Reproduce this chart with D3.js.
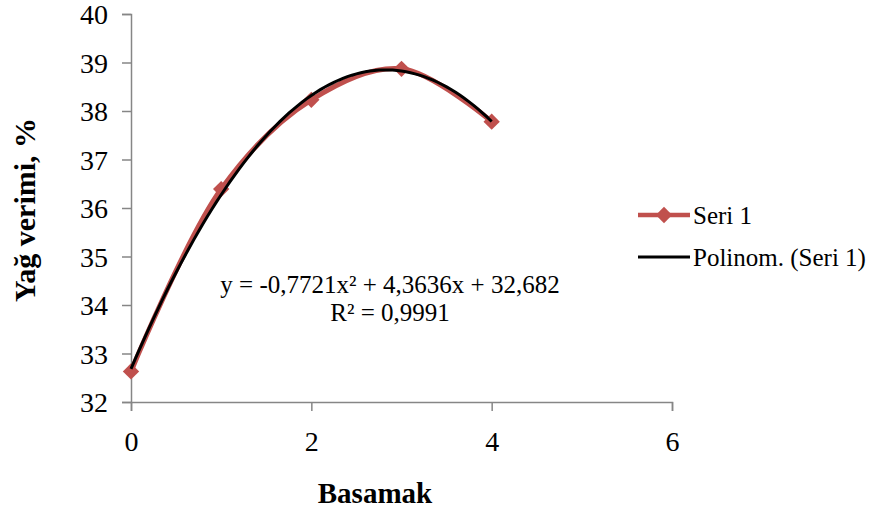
<!DOCTYPE html>
<html>
<head>
<meta charset="utf-8">
<script src="https://cdn.jsdelivr.net/npm/d3@7"></script>
<style>
  body { margin: 0; background: #fff; }
  svg text { font-family: "Liberation Serif", "Times New Roman", serif; fill: #000; }
</style>
</head>
<body>
<svg id="chart" width="872" height="514"></svg>
<script>
// values
var steps = [0, 1, 2, 3, 4];
var yields = [32.63, 36.39, 38.23, 38.87, 37.78];
var xTicks = [0, 2, 4, 6];
var yTicks = [32, 33, 34, 35, 36, 37, 38, 39, 40];
// trendline coefficients as printed on the chart (a, b, c for a*x^2 + b*x + c)
var trendCoef = [-0.7721, 4.3636, 32.682];
var trendLabel = ["y = -0,7721x\u00b2 + 4,3636x + 32,682", "R\u00b2 = 0,9991"];
var legendNames = ["Seri 1", "Polinom. (Seri 1)"];

var svg = d3.select("#chart");
var red = "#C0504D", axisGrey = "#868686";

var x = d3.scaleLinear().domain([0, 6]).range([131, 672]);
var y = d3.scaleLinear().domain([32, 40]).range([402, 14]);

// axes
var yAxis = svg.append("g")
    .attr("transform", "translate(131,0)")
    .call(d3.axisLeft(y).tickValues(yTicks).tickSize(9).tickPadding(14).tickFormat(d3.format("d")));
var xAxis = svg.append("g")
    .attr("transform", "translate(0,402)")
    .call(d3.axisBottom(x).tickValues(xTicks).tickSize(9).tickPadding(20).tickFormat(d3.format("d")));

[xAxis, yAxis].forEach(function (g) {
    g.select(".domain").attr("stroke", axisGrey).attr("stroke-width", 1.5);
    g.selectAll(".tick line").attr("stroke", axisGrey).attr("stroke-width", 1.5);
    g.selectAll(".tick text").style("font-size", "28px").attr("fill", "#000");
});
yAxis.selectAll(".tick text").attr("dy", "0.34em");

// axis titles
svg.append("text")
    .attr("x", 375).attr("y", 503)
    .attr("text-anchor", "middle")
    .style("font-size", "29px").style("font-weight", "bold")
    .text("Basamak");

svg.append("text")
    .attr("transform", "translate(35,210) rotate(-90)")
    .attr("text-anchor", "middle")
    .style("font-size", "30px").style("font-weight", "bold")
    .text("Yağ verimi, %");

// series line (smoothed, like Excel)
var pts = steps.map(function (s, i) { return [s, yields[i]]; });

svg.append("path")
    .datum(pts)
    .attr("fill", "none")
    .attr("stroke", red)
    .attr("stroke-width", 5)
    .attr("d", d3.line()
        .x(function (d) { return x(d[0]); })
        .y(function (d) { return y(d[1]); })
        .curve(d3.curveCatmullRom.alpha(0.5)));

var diamond = d3.symbol().type(d3.symbolDiamond2).size(170);

svg.selectAll(".pt")
    .data(pts)
    .enter().append("path")
    .attr("class", "pt")
    .attr("transform", function (d) { return "translate(" + x(d[0]) + "," + y(d[1]) + ")"; })
    .attr("d", diamond)
    .attr("fill", red);

// polynomial trendline
var trendX = d3.range(0, 4.001, 0.05);
svg.append("path")
    .datum(trendX)
    .attr("fill", "none")
    .attr("stroke", "#000")
    .attr("stroke-width", 3)
    .attr("d", d3.line()
        .x(function (t) { return x(t); })
        .y(function (t) { return y(trendCoef[0] * t * t + trendCoef[1] * t + trendCoef[2]); }));

// equation label
svg.append("text")
    .attr("x", 390).attr("y", 293)
    .attr("text-anchor", "middle")
    .style("font-size", "25px")
    .text(trendLabel[0]);
svg.append("text")
    .attr("x", 390).attr("y", 321)
    .attr("text-anchor", "middle")
    .style("font-size", "25px")
    .text(trendLabel[1]);

// legend
var leg = svg.append("g");
var rowY = [215, 257];

leg.append("line")
    .attr("x1", 638).attr("x2", 690).attr("y1", rowY[0]).attr("y2", rowY[0])
    .attr("stroke", red).attr("stroke-width", 4.5);
leg.append("path")
    .attr("transform", "translate(664," + rowY[0] + ")")
    .attr("d", diamond)
    .attr("fill", red);
leg.append("line")
    .attr("x1", 638).attr("x2", 690).attr("y1", rowY[1]).attr("y2", rowY[1])
    .attr("stroke", "#000").attr("stroke-width", 3);

leg.selectAll("text")
    .data(legendNames)
    .enter().append("text")
    .attr("x", 693)
    .attr("y", function (d, i) { return rowY[i]; })
    .attr("dy", "0.35em")
    .style("font-size", "25px")
    .text(function (d) { return d; });
</script>
</body>
</html>
